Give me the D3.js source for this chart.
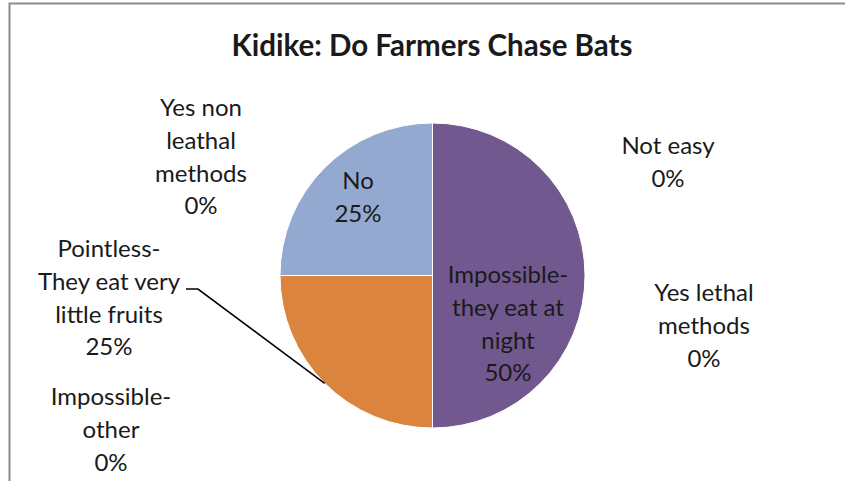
<!DOCTYPE html>
<html>
<head>
<meta charset="utf-8">
<script src="https://cdn.jsdelivr.net/npm/d3@7"></script>
<style>
  html, body { margin: 0; padding: 0; background: #fff; }
  svg { display: block; }
  text { font-family: Lato, "Open Sans", sans-serif; fill: #1a1a1a; }
</style>
</head>
<body>
<svg id="chart" width="845" height="481"></svg>
<script>
// Survey answers, in the order the slices run clockwise from 12 o'clock
const categories = [
  "Not easy",
  "Impossible-they eat at night",
  "Yes lethal methods",
  "Impossible-other",
  "Pointless-They eat very little fruits",
  "Yes non leathal methods",
  "No"
];
const shares = [0, 50, 0, 0, 25, 0, 25];
const labelLines = [
  ["Not easy"],
  ["Impossible-", "they eat at", "night"],
  ["Yes lethal", "methods"],
  ["Impossible-", "other"],
  ["Pointless-", "They eat very", "little fruits"],
  ["Yes non", "leathal", "methods"],
  ["No"]
];
const sliceColors = ["#4F81BD", "#71588F", "#9BBB59", "#C0504D", "#DB843D", "#4BACC6", "#93A9CF"];
const title = "Kidike: Do Farmers Chase Bats";

// Layout
const W = 845, H = 481;
const cx = 432.5, cy = 275.5, R = 152.5;
const lineH = 32.6;
// label block centres (x, first-line centre y)
const labelPos = {
  "Not easy": [668, 146],
  "Impossible-they eat at night": [508, 275],
  "Yes lethal methods": [704, 293],
  "Impossible-other": [111, 397],
  "Pointless-They eat very little fruits": [109, 249],
  "Yes non leathal methods": [201, 108],
  "No": [358, 181]
};

const svg = d3.select("#chart");

// chart frame
svg.append("rect")
  .attr("x", 9.5).attr("y", 3.5)
  .attr("width", W + 20).attr("height", H + 20)
  .attr("fill", "#fff")
  .attr("stroke", "#8c8c8c").attr("stroke-width", 2);

svg.append("text")
  .attr("x", 432).attr("y", 56)
  .attr("text-anchor", "middle")
  .style("font-size", "29.5px").style("font-weight", "bold")
  .text(title);

const data = categories.map((c, i) => ({ category: c, value: shares[i], lines: labelLines[i], color: sliceColors[i] }));

const pie = d3.pie().sort(null).value(d => d.value);
const arc = d3.arc().innerRadius(0).outerRadius(R);
const arcs = pie(data);

const g = svg.append("g").attr("transform", `translate(${cx},${cy})`);
g.selectAll("path")
  .data(arcs.filter(a => a.data.value > 0))
  .join("path")
  .attr("d", arc)
  .attr("fill", d => d.data.color)
  .attr("stroke", "#fff")
  .attr("stroke-width", 1);

// leader line for the "Pointless" label, ending on the slice's outer rim
const pointless = arcs.find(a => a.data.category.startsWith("Pointless"));
const endAng = (pointless.startAngle + pointless.endAngle) / 2;
const ex = cx + R * Math.sin(endAng), ey = cy - R * Math.cos(endAng);
svg.append("path")
  .attr("d", `M186,289 L198,289 L${ex},${ey}`)
  .attr("fill", "none")
  .attr("stroke", "#000")
  .attr("stroke-width", 1.6);

// data labels
const fmt = d3.format(".0%");
const total = d3.sum(shares);
arcs.forEach(a => {
  const [lx, ly] = labelPos[a.data.category];
  const lines = a.data.lines.concat([fmt(a.data.value / total)]);
  const t = svg.append("text")
    .attr("text-anchor", "middle")
    .style("font-size", "24px");
  lines.forEach((ln, i) => {
    t.append("tspan")
      .attr("x", lx)
      .attr("y", ly + i * lineH)
      .attr("dy", "0.35em")
      .text(ln);
  });
});
</script>
</body>
</html>
